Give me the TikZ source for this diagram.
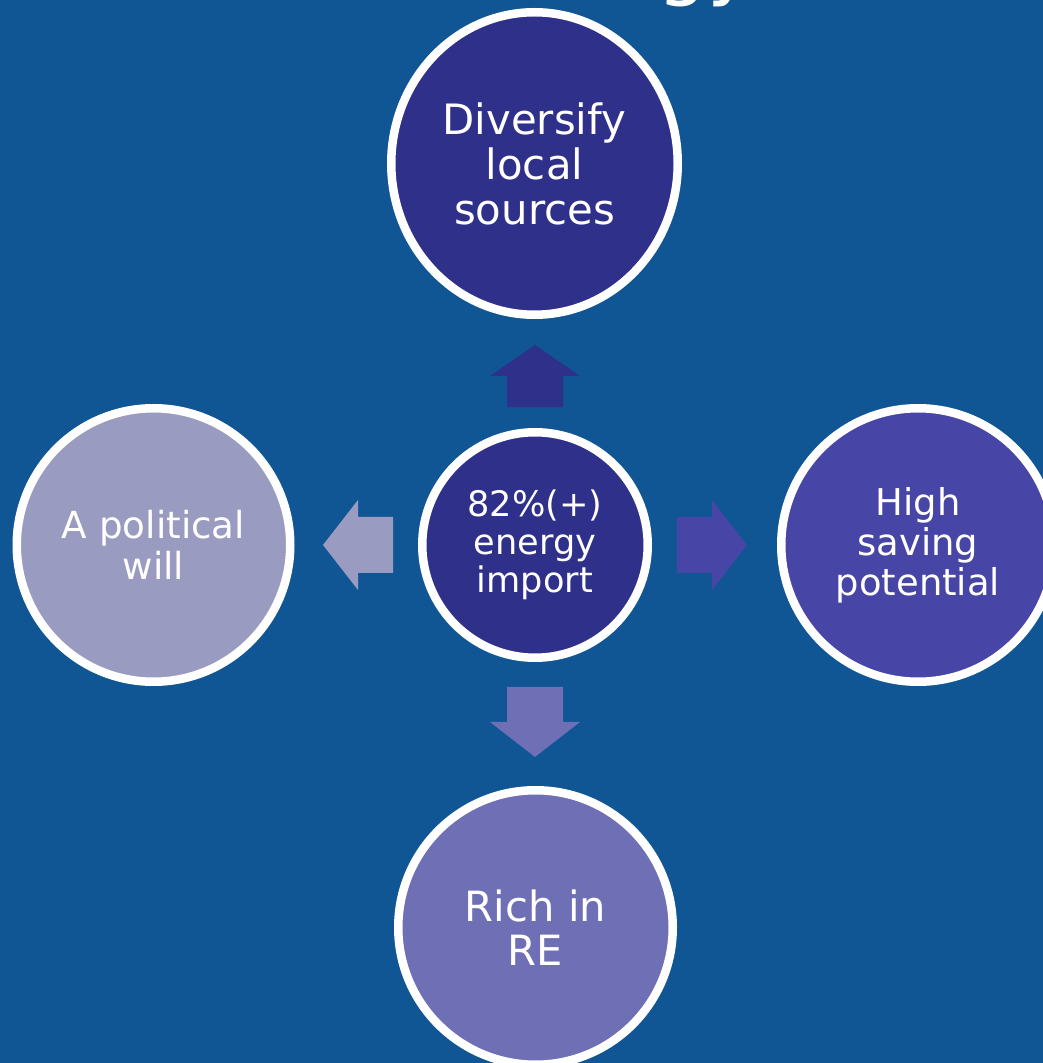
\documentclass[tikz,border=0pt]{standalone}
\usepackage{fontspec}
\setmainfont{DejaVu Sans}
\usetikzlibrary{shapes.geometric, shadows}
\definecolor{slidebg}{RGB}{16,85,148}
\definecolor{darkindigo}{RGB}{46,48,138}
\definecolor{midindigo}{RGB}{71,70,166}
\definecolor{softindigo}{RGB}{110,111,180}
\definecolor{greyindigo}{RGB}{154,155,192}
\tikzset{bubble/.style n args={2}{
    circle, draw=white, line width=0.17cm, fill=#1,
    minimum size=#2, inner sep=0pt, align=center, text=white,
    drop shadow={opacity=0.25, shadow xshift=0.04cm, shadow yshift=-0.05cm}
  }
}
% block arrow: centre, angle, colour (and options)
\newcommand{\blockarrow}[3]{%
  \fill[shift={#1}, rotate=#2, #3]
    (-0.70,-0.56) -- (0,-0.56) -- (0,-0.90) -- (0.70,0)
    -- (0,0.90) -- (0,0.56) -- (-0.70,0.56) -- cycle;}

\begin{document}
\begin{tikzpicture}
      \fill[slidebg] (0,0) rectangle (20.86,21.26);
      \useasboundingbox (0,0) rectangle (20.86,21.26);
      \node[anchor=base east, text=white, inner sep=0pt, font=\fontsize{45}{50}\selectfont] (title) at (15.10,21.44) {Energy};
      \node[bubble={darkindigo}{4.51cm}, font=\fontsize{20}{21.8}\selectfont] (mid) at (10.70,10.36) {82\%(+)\\energy\\import};
      \node[bubble={darkindigo}{5.73cm}, ellipse, minimum width=5.73cm, minimum height=6.05cm, font=\fontsize{23.8}{25.6}\selectfont] (diversify) at (10.69,17.99) {Diversify\\local\\sources};
      \node[bubble={midindigo}{5.47cm}, font=\fontsize{21}{22.8}\selectfont] (saving) at (18.36,10.36) {High\\saving\\potential};
      \node[bubble={softindigo}{5.49cm}, font=\fontsize{23.7}{25}\selectfont] (rich) at (10.71,2.71) {Rich in\\RE};
      \node[bubble={greyindigo}{5.47cm}, font=\fontsize{21.2}{23.3}\selectfont] (will) at (3.07,10.36) {A political\\will};
      \blockarrow{(10.70,13.74)}{90}{darkindigo, xscale=0.886}
      \blockarrow{(14.24,10.36)}{0}{midindigo}
      \blockarrow{(10.70,6.82)}{-90}{softindigo}
      \blockarrow{(7.16,10.36)}{180}{greyindigo}
    \end{tikzpicture}
\end{document}
